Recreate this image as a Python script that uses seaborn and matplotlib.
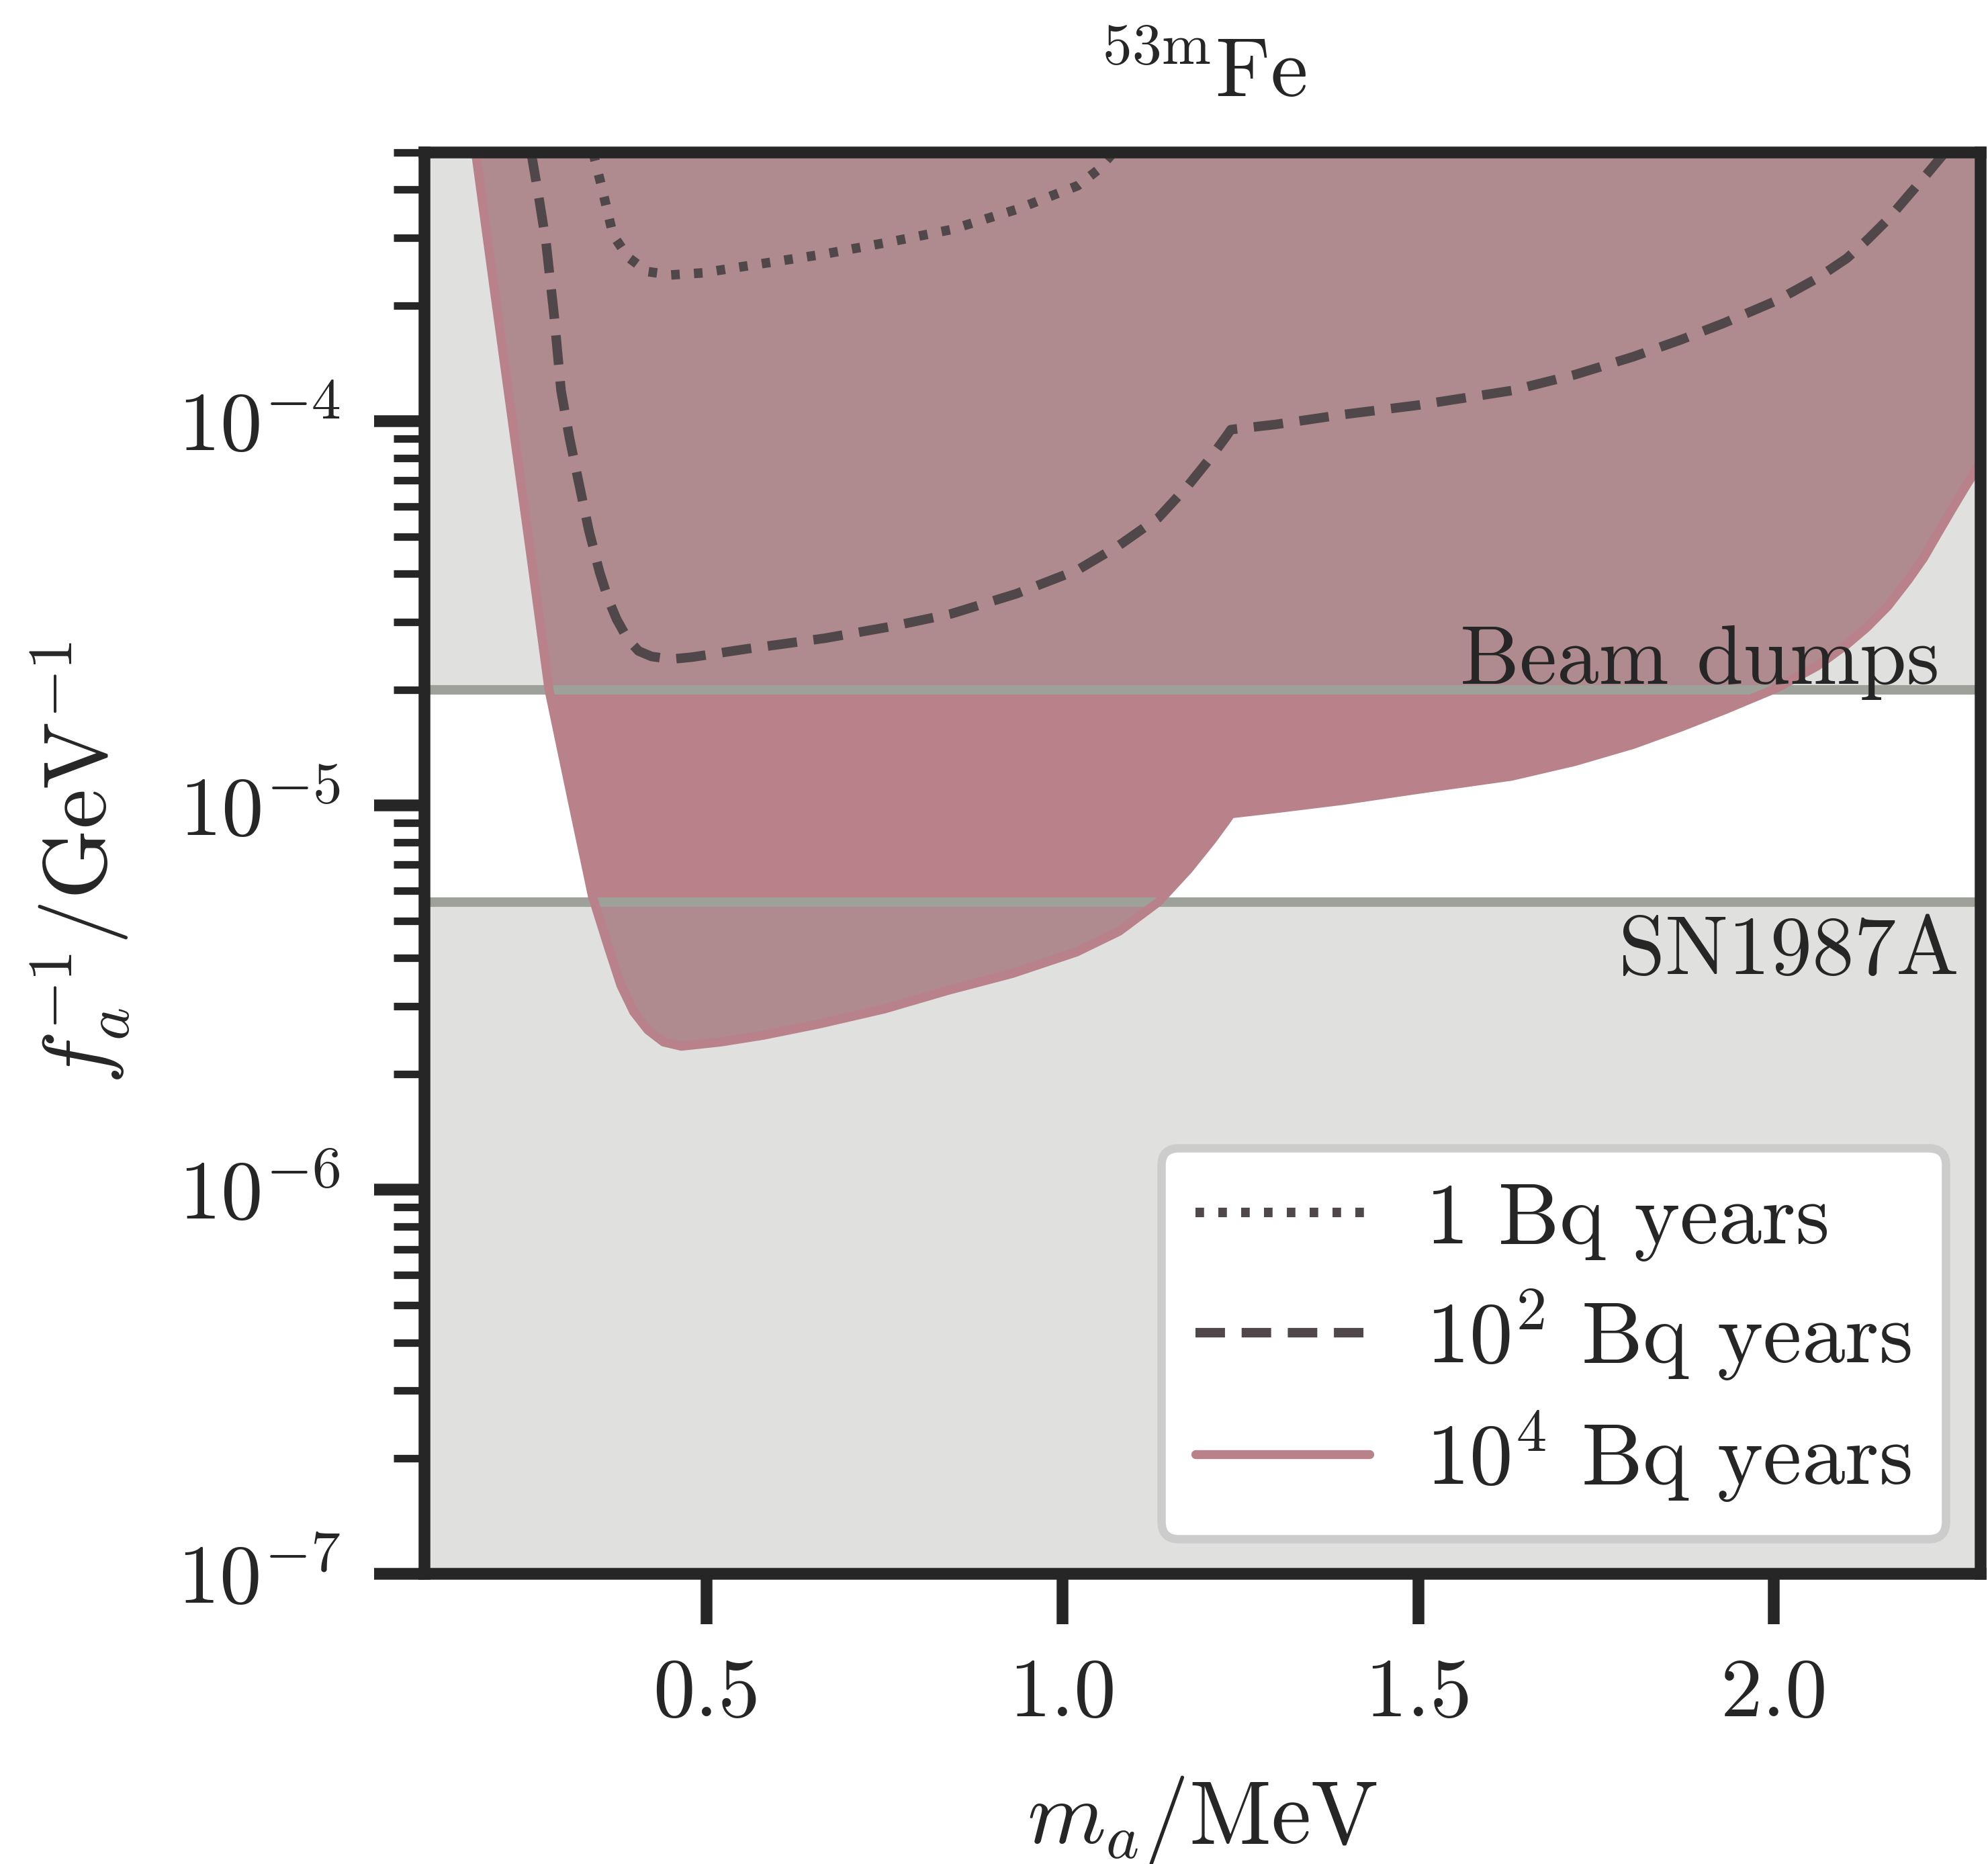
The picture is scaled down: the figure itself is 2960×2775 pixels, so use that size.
import numpy as np
import matplotlib
matplotlib.use("Agg")
import matplotlib.pyplot as plt
import seaborn as sns
from matplotlib.ticker import FuncFormatter, FixedLocator, FormatStrFormatter, NullLocator, NullFormatter, LogLocator

# ---- sensitivity curves: axion mass (MeV) vs 1/f_a (GeV^-1) ----
ma_1e4 = [0.176, 0.2007, 0.2275, 0.2533, 0.279, 0.313, 0.340, 0.362, 0.380, 0.398,
          0.418, 0.440, 0.465, 0.520, 0.580, 0.660, 0.750, 0.840, 0.930, 1.020,
          1.080, 1.135, 1.177, 1.210, 1.230, 1.237, 1.300, 1.395, 1.500, 1.631,
          1.720, 1.802, 1.870, 1.930, 2.004, 2.060, 2.102, 2.130, 2.160, 2.188,
          2.210, 2.230, 2.250, 2.270, 2.290]
fa_1e4 = [5.0e-4, 2.3e-4, 1.0e-4, 4.5e-5, 2.0e-5, 1.0e-5, 5.8e-6, 4.3e-6, 3.4e-6, 2.9e-6,
          2.6e-6, 2.42e-6, 2.36e-6, 2.42e-6, 2.52e-6, 2.7e-6, 2.95e-6, 3.3e-6, 3.65e-6, 4.15e-6,
          4.7e-6, 5.6e-6, 6.8e-6, 8.1e-6, 9.1e-6, 9.5e-6, 9.8e-6, 1.03e-5, 1.1e-5, 1.19e-5,
          1.3e-5, 1.44e-5, 1.6e-5, 1.77e-5, 2.02e-5, 2.3e-5, 2.62e-5, 2.9e-5, 3.3e-5, 3.85e-5,
          4.4e-5, 5.1e-5, 5.9e-5, 6.8e-5, 7.8e-5]

ma_1e2 = [0.254, 0.265, 0.275, 0.286, 0.296, 0.308, 0.321, 0.335, 0.350, 0.362,
          0.374, 0.390, 0.405, 0.423, 0.450, 0.480, 0.555, 0.666, 0.760, 0.844,
          0.935, 1.022, 1.080, 1.135, 1.177, 1.210, 1.230, 1.237, 1.300, 1.395,
          1.500, 1.631, 1.720, 1.802, 1.870, 1.930, 2.004, 2.060, 2.102, 2.130,
          2.160, 2.188, 2.215, 2.240]
fa_1e2 = [5.0e-4, 3.8e-4, 2.9e-4, 1.9e-4, 1.2e-4, 9.0e-5, 6.9e-5, 5.2e-5, 4.05e-5, 3.45e-5,
          3.05e-5, 2.7e-5, 2.52e-5, 2.44e-5, 2.4e-5, 2.43e-5, 2.55e-5, 2.72e-5, 2.92e-5, 3.15e-5,
          3.55e-5, 4.1e-5, 4.75e-5, 5.6e-5, 6.8e-5, 8.1e-5, 9.1e-5, 9.5e-5, 9.8e-5, 1.04e-4,
          1.1e-4, 1.2e-4, 1.32e-4, 1.47e-4, 1.63e-4, 1.8e-4, 2.06e-4, 2.35e-4, 2.65e-4, 2.95e-4,
          3.35e-4, 3.85e-4, 4.4e-4, 5.0e-4]

ma_1 = [0.341, 0.354, 0.369, 0.390, 0.417, 0.450, 0.495, 0.555, 0.666, 0.760,
        0.844, 0.935, 1.022, 1.050, 1.072]
fa_1 = [5.0e-4, 4.0e-4, 3.05e-4, 2.67e-4, 2.45e-4, 2.4e-4, 2.43e-4, 2.53e-4, 2.72e-4, 2.93e-4,
        3.15e-4, 3.55e-4, 4.1e-4, 4.5e-4, 5.0e-4]

labels = ["1 Bq years", r"$10^2$ Bq years", r"$10^4$ Bq years"]

# existing bounds
beam_dump_bound = 2.0e-5
sn1987a_bound = 5.6e-6

x_ticks = [0.5, 1.0, 1.5, 2.0]
x_range = (0.104, 2.290)
y_range = (1e-7, 5e-4)

PINK = "#b9818a"
DARK = "#4f4749"
SHADE = "#9ba198"
BOUND = "#9da19a"
INK = "#262626"

sns.set_style("ticks")
plt.rcParams.update({
    "font.family": "serif",
    "font.serif": ["cmr10"],
    "mathtext.fontset": "cm",
    "axes.formatter.use_mathtext": True,
    "axes.unicode_minus": False,
    "text.color": INK,
    "axes.labelcolor": INK,
    "xtick.color": INK,
    "ytick.color": INK,
})

fig = plt.figure(figsize=(2961 / 300, 2775 / 300), dpi=300)
ax = fig.add_axes([0.2134, 0.1557, 0.7825, 0.7625])
ax.set_facecolor("white")
ax.set_yscale("log")

# excluded region for the largest exposure
ax.fill_between(ma_1e4, fa_1e4, 1.0, color=PINK, lw=0, zorder=1)

# shading outside the open window between the two bounds
ax.axhspan(beam_dump_bound, 1.0, color=SHADE, alpha=0.31, lw=0, zorder=1.5)
ax.axhspan(1e-9, sn1987a_bound, color=SHADE, alpha=0.31, lw=0, zorder=1.5)
ax.axhline(beam_dump_bound, color=BOUND, lw=3.4, zorder=2)
ax.axhline(sn1987a_bound, color=BOUND, lw=3.4, zorder=2)

sns.lineplot(x=ma_1, y=fa_1, ax=ax, color=DARK, lw=3.4, linestyle=(0, (0.9, 1.5)),
             label=labels[0], estimator=None, sort=False, zorder=3)
sns.lineplot(x=ma_1e2, y=fa_1e2, ax=ax, color=DARK, lw=3.4, linestyle=(0, (3.1, 1.75)),
             label=labels[1], estimator=None, sort=False, zorder=3)
sns.lineplot(x=ma_1e4, y=fa_1e4, ax=ax, color=PINK, lw=3.2, linestyle="-",
             label=labels[2], estimator=None, sort=False, zorder=3)

ax.annotate("Beam dumps", xy=(2.232, beam_dump_bound), xytext=(0, 2),
            textcoords="offset points", ha="right", va="baseline", fontsize=30, zorder=4)
ax.annotate("SN1987A", xy=(2.26, sn1987a_bound), xytext=(0, -5),
            textcoords="offset points", ha="right", va="top", fontsize=30, zorder=4)

ax.set_xlim(*x_range)
ax.set_ylim(*y_range)

ax.xaxis.set_major_locator(FixedLocator(x_ticks))
ax.xaxis.set_major_formatter(FormatStrFormatter("%.1f"))
ax.xaxis.set_minor_locator(NullLocator())
ax.yaxis.set_major_locator(LogLocator(base=10, numticks=10))
ax.yaxis.set_minor_locator(LogLocator(base=10, subs=np.arange(2, 10), numticks=20))
ax.yaxis.set_major_formatter(FuncFormatter(lambda v, p: r"$10^{%d}$" % int(round(np.log10(v)))))
ax.yaxis.set_minor_formatter(NullFormatter())

ax.tick_params(which="major", length=18, width=4.2, pad=12, labelsize=30,
               direction="out", top=False, right=False)
ax.tick_params(which="minor", length=11, width=2.7, direction="out", top=False, right=False)
for s in ax.spines.values():
    s.set_linewidth(4.2)
    s.set_color(INK)
    s.set_zorder(5)

ax.set_xlabel(r"$m_a/\mathrm{MeV}$", fontsize=32, labelpad=15)
ax.set_ylabel(r"$f_a^{-1}/\mathrm{GeV}^{-1}$", fontsize=32, labelpad=16)
ax.set_title(r"$^{53\mathrm{m}}\mathrm{Fe}$", fontsize=30, pad=20)

leg = ax.legend(loc="lower right", fontsize=31, frameon=True, fancybox=True,
                framealpha=1, facecolor="white", edgecolor="#cccccc",
                borderaxespad=0.4, handlelength=2.0, labelspacing=0.3,
                handletextpad=0.65)
leg.get_frame().set_linewidth(3.0)
leg.set_zorder(6)

fig.savefig("out.png", dpi=300)
